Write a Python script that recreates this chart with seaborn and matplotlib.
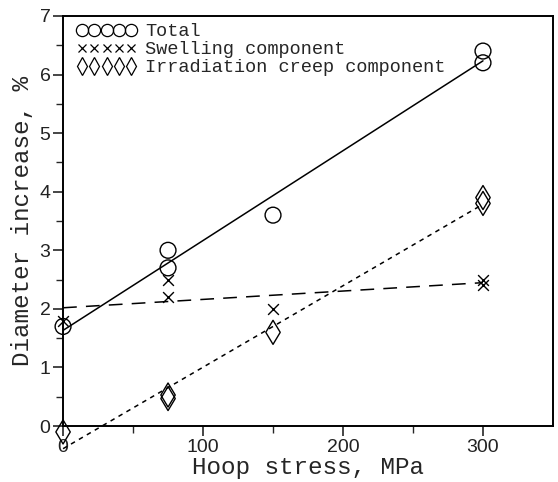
import numpy as np
import pandas as pd
import matplotlib
matplotlib.use('Agg')
import matplotlib.pyplot as plt
from matplotlib.lines import Line2D
import seaborn as sns

stress = [0, 75, 75, 150, 300, 300]
total = [1.7, 2.7, 3.0, 3.6, 6.2, 6.4]
swelling = [1.8, 2.2, 2.5, 2.0, 2.4, 2.5]
creep = [-0.1, 0.47, 0.53, 1.6, 3.8, 3.9]
labels = ['Total', 'Swelling component', 'Irradiation creep component']

df = pd.DataFrame({'stress': stress, 'total': total, 'swelling': swelling, 'creep': creep})

sns.set_style('ticks')
plt.rcParams['font.family'] = ['Liberation Sans', 'DejaVu Sans']

fig = plt.figure(figsize=(5.58, 4.82), dpi=100)
ax = fig.add_axes([0.113, 0.116, 0.878, 0.851])

mono = 'Liberation Mono'

# least-squares fits
sns.regplot(data=df, x='stress', y='total', scatter=False, ci=None, truncate=True, ax=ax,
            line_kws=dict(color='black', lw=1.1, clip_on=False))
sns.regplot(data=df, x='stress', y='swelling', scatter=False, ci=None, truncate=True, ax=ax,
            line_kws=dict(color='black', lw=1.1, dashes=(9, 6), clip_on=False))
sns.regplot(data=df, x='stress', y='creep', scatter=False, ci=None, truncate=True, ax=ax,
            line_kws=dict(color='black', lw=1.1, dashes=(3, 3), clip_on=False))

# points
sns.scatterplot(data=df, x='stress', y='total', marker='o', s=130, facecolor='none',
                edgecolor='black', linewidth=1.0, ax=ax, clip_on=False, zorder=3)
sns.scatterplot(data=df, x='stress', y='swelling', marker='x', s=60, color='black',
                linewidth=1.0, ax=ax, clip_on=False, zorder=3)
sns.scatterplot(data=df, x='stress', y='creep', marker='d', s=150, facecolor='none',
                edgecolor='black', linewidth=1.0, ax=ax, clip_on=False, zorder=3)

ax.set_xlim(0, 350)
ax.set_ylim(0, 7)
ax.set_xticks([0, 100, 200, 300])
ax.set_xticks([50, 150, 250], minor=True)
ax.set_yticks(range(0, 8))
ax.set_yticks(np.arange(0.5, 7, 1), minor=True)
ax.tick_params(which='major', direction='out', length=7, width=1.2, labelsize=14,
               labelcolor='#222222', pad=2)
ax.tick_params(which='minor', direction='out', length=5, width=1.0)
for s in ax.spines.values():
    s.set_visible(True)
    s.set_linewidth(1.4)
    s.set_color('black')

ax.set_xlabel('Hoop stress, MPa', fontsize=17.5, family=mono, labelpad=0)
ax.set_ylabel('Diameter increase, %', fontsize=17.5, family=mono, labelpad=4)

handles = [
    Line2D([], [], ls='none', marker='o', ms=8.8, mfc='none', mec='black', mew=0.9),
    Line2D([], [], ls='none', marker='x', ms=6, color='black', mew=0.9),
    Line2D([], [], ls='none', marker='d', ms=9, mfc='none', mec='black', mew=0.9),
]
ax.legend(handles, labels, loc='upper left', bbox_to_anchor=(0.0115, 1.0),
          frameon=False, numpoints=5, handlelength=3.27, handletextpad=0.45,
          labelspacing=0.05, borderaxespad=0, prop={'family': mono, 'size': 13.4})

fig.savefig('out.png', dpi=100)
